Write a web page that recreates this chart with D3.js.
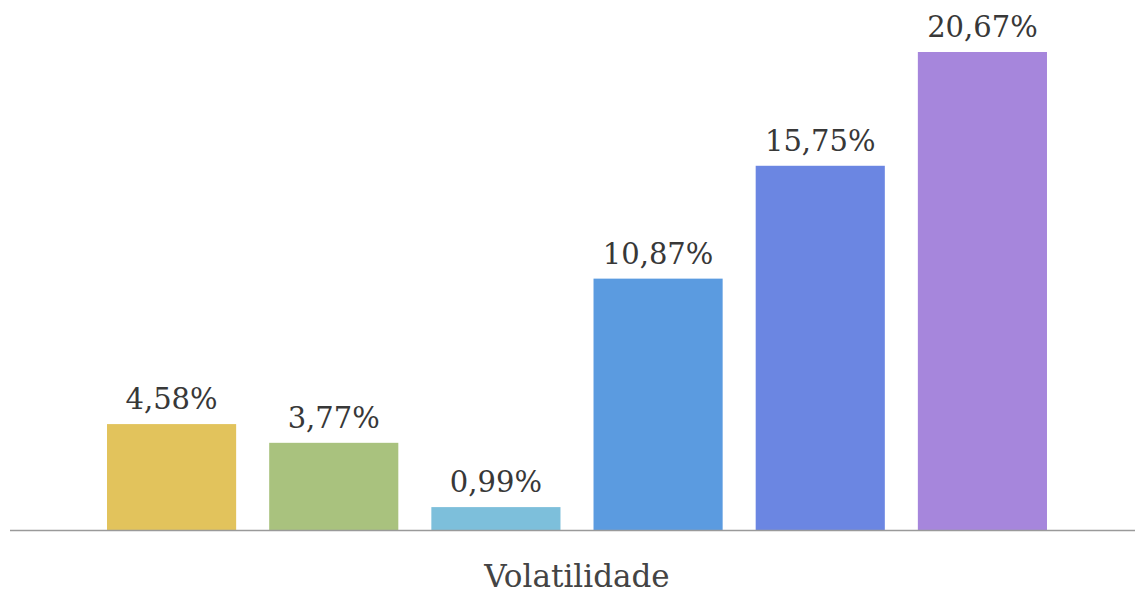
<!DOCTYPE html>
<html>
<head>
<meta charset="utf-8">
<script src="https://cdn.jsdelivr.net/npm/d3@7/dist/d3.min.js"></script>
<style>
  html, body { margin: 0; padding: 0; background: #fff; }
  svg { display: block; }
  .lbl { font-family: "DejaVu Serif", "Noto Serif", "Liberation Serif", serif; }
</style>
</head>
<body>
<svg id="chart" width="1135" height="596"></svg>
<script>
// Volatility per series, in percent
const categories = ["A", "B", "C", "D", "E", "F"];
const values = [4.58, 3.77, 0.99, 10.87, 15.75, 20.67];
const valueLabels = ["4,58%", "3,77%", "0,99%", "10,87%", "15,75%", "20,67%"];
const barColors = ["#e2c35c", "#a9c27e", "#7dbfdb", "#5b9be0", "#6b86e2", "#a686dc"];
const axisTitle = "Volatilidade";

const svg = d3.select("#chart");
const W = 1135, H = 596;
const baseY = 530;

const x = d3.scaleBand()
  .domain(categories)
  .range([90.5, 1063.5])
  .paddingInner(33 / 162)
  .paddingOuter(16.5 / 162);

const y = d3.scaleLinear()
  .domain([0, 20.67])
  .range([baseY, 52]);

const rows = categories.map((c, i) => ({ c, v: values[i], label: valueLabels[i], color: barColors[i] }));

svg.append("g")
  .selectAll("rect")
  .data(rows)
  .join("rect")
  .attr("x", d => x(d.c))
  .attr("y", d => y(d.v))
  .attr("width", x.bandwidth())
  .attr("height", d => y(0) - y(d.v))
  .attr("fill", d => d.color);

// baseline
svg.append("line")
  .attr("x1", 10).attr("x2", W)
  .attr("y1", baseY + 0.5).attr("y2", baseY + 0.5)
  .attr("stroke", "#9a9a9a")
  .attr("stroke-width", 1.6);

// value labels above bars
svg.append("g")
  .selectAll("text")
  .data(rows)
  .join("text")
  .attr("class", "lbl")
  .attr("x", d => x(d.c) + x.bandwidth() / 2)
  .attr("y", d => y(d.v) - 15)
  .attr("text-anchor", "middle")
  .attr("font-size", 29)
  .attr("fill", "#383838")
  .text(d => d.label);

// category axis title
svg.append("text")
  .attr("class", "lbl")
  .attr("x", (x.range()[0] + x.range()[1]) / 2)
  .attr("y", 587)
  .attr("text-anchor", "middle")
  .attr("font-size", 31)
  .attr("fill", "#444")
  .text(axisTitle);
</script>
</body>
</html>
